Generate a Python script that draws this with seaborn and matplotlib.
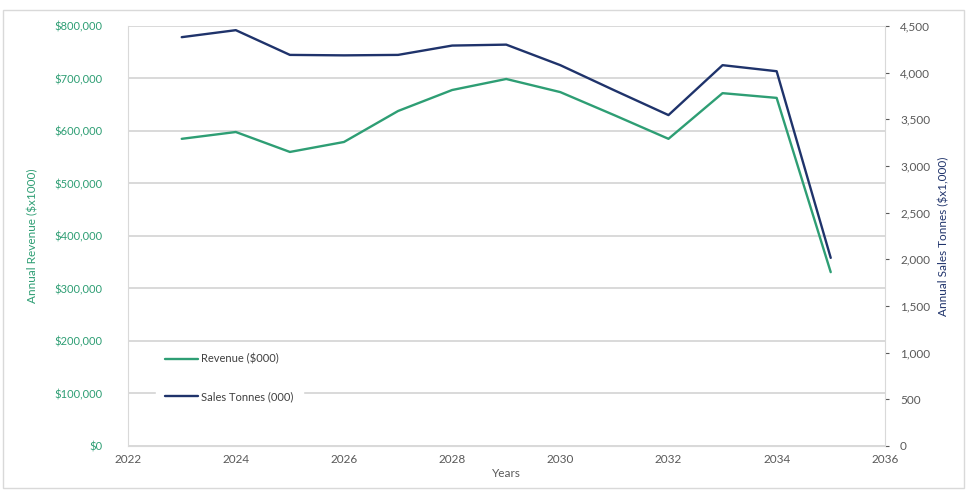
import numpy as np
import pandas as pd
import matplotlib.pyplot as plt
import matplotlib.ticker as mticker
import seaborn as sns

# Data
years = [2023, 2024, 2025, 2026, 2027, 2028, 2029, 2030, 2031, 2032, 2033, 2034, 2035]
revenue = [585000, 598000, 560000, 579000, 638000, 678000, 699000, 674000, 630000, 585000, 672000, 663000, 331000]
tonnes = [4380, 4455, 4190, 4185, 4190, 4290, 4300, 4080, 3810, 3545, 4080, 4015, 2015]

green = "#2E9E74"
navy = "#1F336B"

sns.set_style("white")
plt.rcParams["font.family"] = ["Lato", "DejaVu Sans"]

df = pd.DataFrame({"year": years, "revenue": revenue, "tonnes": tonnes})

fig = plt.figure(figsize=(9.67, 4.9), dpi=100)
ax = fig.add_axes([0.132, 0.09, 0.783, 0.857])
ax2 = ax.twinx()

sns.lineplot(data=df, x="year", y="revenue", ax=ax, color=green, linewidth=1.7,
             label="Revenue ($000)", legend=False)
sns.lineplot(data=df, x="year", y="tonnes", ax=ax2, color=navy, linewidth=1.7,
             label="Sales Tonnes (000)", legend=False)

ax.set_xlim(2022, 2036)
ax.set_xticks(range(2022, 2037, 2))
ax.set_ylim(0, 800000)
ax.set_yticks(range(0, 800001, 100000))
ax2.set_ylim(0, 4500)
ax2.set_yticks(range(0, 4501, 500))

ax.yaxis.set_major_formatter(mticker.FuncFormatter(lambda v, p: f"${v:,.0f}"))
ax2.yaxis.set_major_formatter(mticker.FuncFormatter(lambda v, p: f"{v:,.0f}"))

ax.grid(axis="y", color="#D9D9D9", linewidth=1.4)
ax.set_axisbelow(True)
for a in (ax, ax2):
    for s in a.spines.values():
        s.set_visible(False)
ax.spines["bottom"].set_visible(True)
ax.spines["bottom"].set_color("#D9D9D9")
ax.spines["left"].set_visible(True)
ax.spines["left"].set_color("#D9D9D9")
ax2.spines["right"].set_visible(True)
ax2.spines["right"].set_color("#D9D9D9")

ax.tick_params(axis="y", colors=green, labelsize=8, length=0, pad=18)
ax.tick_params(axis="x", colors="#595959", labelsize=8.5, length=0, pad=6)
ax2.tick_params(axis="y", colors="#595959", labelsize=8.5, length=3, pad=8)

ax.set_xlabel("Years", fontsize=8.5, color="#595959", labelpad=2)
ax.set_ylabel("Annual Revenue ($x1000)", fontsize=8.5, color=green, labelpad=12)
ax2.set_ylabel("Annual Sales Tonnes ($x1,000)", fontsize=8.5, color=navy, labelpad=6)

h1, l1 = ax.get_legend_handles_labels()
h2, l2 = ax2.get_legend_handles_labels()
leg = ax2.legend(h1 + h2, l1 + l2, loc="lower left", bbox_to_anchor=(0.03, 0.07),
                 frameon=True, fontsize=8, handlelength=3, labelspacing=2.4,
                 borderpad=0.8, handletextpad=0.3)
leg.get_frame().set_edgecolor("white")
leg.get_frame().set_facecolor("white")
leg.get_frame().set_alpha(1)
for t in leg.get_texts():
    t.set_color("#404040")

fig.patches.append(plt.Rectangle((0.003, 0.005), 0.994, 0.975, transform=fig.transFigure,
                                 fill=False, edgecolor="#D9D9D9", linewidth=1))

fig.savefig("out.png", dpi=100)
